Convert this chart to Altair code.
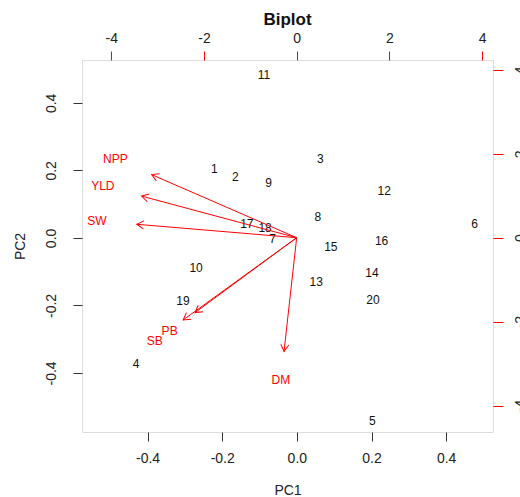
import math
import altair as alt
import pandas as pd

# ---- data ----
obs_labels = [str(i) for i in range(1, 21)]
pc1 = [-0.221, -0.165, 0.063, -0.431, 0.202, 0.476, -0.065, 0.056, -0.076, -0.270,
       -0.088, 0.234, 0.052, 0.201, 0.091, 0.227, -0.134, -0.085, -0.305, 0.204]
pc2 = [0.203, 0.180, 0.235, -0.375, -0.541, 0.041, -0.004, 0.063, 0.163, -0.090,
       0.482, 0.138, -0.132, -0.104, -0.027, -0.009, 0.041, 0.029, -0.188, -0.183]

var_names = ["NPP", "YLD", "SW", "PB", "SB", "DM"]
load_x = [-3.91, -4.18, -4.31, -2.74, -3.06, -0.34]
load_y = [1.88, 1.24, 0.40, -2.23, -2.45, -3.39]

pc_ticks = [-0.4, -0.2, 0.0, 0.2, 0.4]
load_ticks = [-4, -2, 0, 2, 4]

# ---- layout ----
W, H = 411, 372
xdom = [-0.5756, 0.5255]
ydom = [-0.575, 0.527]
lxdom = [-4.63, 4.235]
lydom = [-4.63, 4.235]
FONT = "Liberation Sans"
RED = "#ff0000"

scores = pd.DataFrame({"lab": obs_labels, "PC1": pc1, "PC2": pc2})

kx = W / (lxdom[1] - lxdom[0])
ky = H / (lydom[1] - lydom[0])
load = pd.DataFrame({"name": var_names, "lx": load_x, "ly": load_y})
load["tx"] = load["lx"] * 0.8
load["ty"] = load["ly"] * 0.8
load["ang"] = [(math.degrees(math.atan2(x * kx, y * ky)) + 360) % 360
               for x, y in zip(load["tx"], load["ty"])]

neg_fmt1 = "(datum.value < 0 ? '-' : '') + format(abs(datum.value), '.1f')"
neg_fmt0 = "(datum.value < 0 ? '-' : '') + format(abs(datum.value), 'd')"

x_axis = alt.Axis(orient="bottom", values=pc_ticks, labelExpr=neg_fmt1, grid=False,
                  domain=False, tickColor="#333", tickSize=9, labelPadding=10,
                  labelFont=FONT, labelFontSize=14, labelColor="#222",
                  title="PC1", titleFont=FONT, titleFontSize=14, titleFontWeight="normal",
                  titleColor="#222", titleX=W / 2, titleY=58, titleBaseline="middle",
                  titleAlign="center")
y_axis = alt.Axis(orient="left", values=pc_ticks, labelExpr=neg_fmt1, grid=False,
                  domain=False, tickColor="#333", tickSize=9, labelPadding=15,
                  labelAngle=270, labelAlign="center", labelBaseline="bottom",
                  labelFont=FONT, labelFontSize=14, labelColor="#222",
                  title="PC2", titleFont=FONT, titleFontSize=14, titleFontWeight="normal",
                  titleColor="#222", titleX=-62, titleY=H / 2, titleAngle=270,
                  titleBaseline="middle", titleAlign="center")

lx_axis = alt.Axis(orient="top", values=load_ticks, labelExpr=neg_fmt0, grid=False,
                   domain=False, tickColor=RED, tickSize=9, labelPadding=6,
                   labelFont=FONT, labelFontSize=14, labelColor="#222", title=None)
ly_axis = alt.Axis(orient="right", values=load_ticks, labelExpr=neg_fmt0, grid=False,
                   domain=False, tickColor=RED, tickSize=10, labelPadding=10,
                   labelAngle=270, labelAlign="center", labelBaseline="top",
                   labelFont=FONT, labelFontSize=14, labelColor="#222", title=None)

xs = alt.Scale(domain=xdom, nice=False, zero=False)
ys = alt.Scale(domain=ydom, nice=False, zero=False)
lxs = alt.Scale(domain=lxdom, nice=False, zero=False)
lys = alt.Scale(domain=lydom, nice=False, zero=False)

pts = alt.Chart(scores).mark_text(font=FONT, fontSize=12, color="#111",
                                  align="center", baseline="middle").encode(
    x=alt.X("PC1:Q", scale=xs, axis=x_axis),
    y=alt.Y("PC2:Q", scale=ys, axis=y_axis),
    text="lab:N",
)

base = alt.Chart(load)
shafts = base.mark_rule(color=RED, strokeWidth=1).encode(
    x=alt.X("tx:Q", scale=lxs, axis=lx_axis),
    y=alt.Y("ty:Q", scale=lys, axis=ly_axis),
    x2=alt.datum(0),
    y2=alt.datum(0),
)
heads = base.mark_point(shape="M-0.5,0.866L0,0L0.5,0.866", filled=False,
                        color=RED, strokeWidth=1, size=256, opacity=1).encode(
    x=alt.X("tx:Q", scale=lxs, axis=lx_axis),
    y=alt.Y("ty:Q", scale=lys, axis=ly_axis),
    angle=alt.Angle("ang:Q", scale=None),
)
labs = base.mark_text(font=FONT, fontSize=12, color=RED,
                      align="center", baseline="middle").encode(
    x=alt.X("lx:Q", scale=lxs, axis=lx_axis),
    y=alt.Y("ly:Q", scale=lys, axis=ly_axis),
    text="name:N",
)

arrows = alt.layer(shafts, heads, labs)

chart = alt.layer(pts, arrows).resolve_scale(
    x="independent", y="independent"
).properties(
    width=W, height=H,
    title=alt.TitleParams("Biplot", font=FONT, fontSize=17, fontWeight="bold",
                          color="#111", anchor="middle", offset=2),
    autosize=alt.AutoSizeParams(type="none"),
    padding={"left": 82, "top": 60, "right": 27, "bottom": 65},
).configure_view(stroke="#333", strokeWidth=1.2).configure(background="white")

chart.save("out.html", embed_options={"renderer": "svg", "actions": False})
